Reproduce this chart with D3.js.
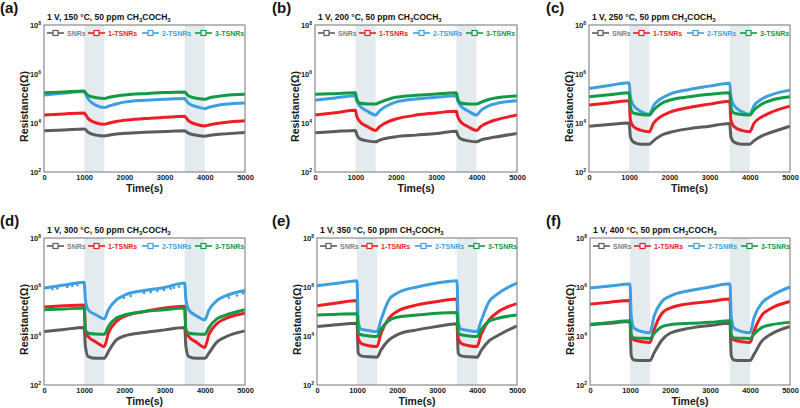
<!DOCTYPE html>
<html>
<head>
<meta charset="utf-8">
<script src="https://cdn.jsdelivr.net/npm/d3@7/dist/d3.min.js"></script>
<style>
  html, body { margin: 0; padding: 0; background: #fff; }
  svg text { font-family: "Liberation Sans", Arial, sans-serif; font-weight: bold; }
</style>
</head>
<body>
<svg id="chart" width="800" height="408"></svg>
<script>
// ---------- DATA ----------
const times = [0, 500, 1000, 1030, 1100, 1300, 1500, 1600, 1800, 2000, 2500, 3000, 3500, 3530, 3600, 3800, 4000, 4100, 4300, 4500, 5000];
const seriesNames = ["SNRs", "1-TSNRs", "2-TSNRs", "3-TSNRs"];
const panelLabels = ["(a)", "(b)", "(c)", "(d)", "(e)", "(f)"];
const temperatures = ["150", "200", "250", "300", "350", "400"];
const gasOnIntervals = [[1000, 1500], [3500, 4000]];
const xTickValues = [0, 1000, 2000, 3000, 4000, 5000];
const yTickValues = [1e2, 1e4, 1e6, 1e8];
const yTickExponents = ["2", "4", "6", "8"];

// (a) 150 °C
const a_SNRs   = [4.8e3, 5.2e3, 5.75e3, 5.4e3, 4.2e3, 3.2e3, 2.95e3, 3.16e3, 3.55e3, 3.8e3, 4.2e3, 4.5e3, 4.8e3, 4.5e3, 3.8e3, 3.16e3, 2.9e3, 3.1e3, 3.4e3, 3.6e3, 4.1e3];
const a_1TSNRs = [2.1e4, 2.35e4, 2.57e4, 2.24e4, 1.51e4, 1.0e4, 8.9e3, 9.8e3, 1.15e4, 1.29e4, 1.51e4, 1.7e4, 1.9e4, 1.66e4, 1.23e4, 8.7e3, 7.6e3, 8.3e3, 9.5e3, 1.05e4, 1.23e4];
const a_2TSNRs = [1.38e5, 1.66e5, 1.95e5, 1.58e5, 9.5e4, 5.2e4, 4.3e4, 4.8e4, 6.0e4, 7.1e4, 8.5e4, 9.3e4, 1.0e5, 8.5e4, 6.3e4, 4.6e4, 3.9e4, 4.4e4, 5.2e4, 5.8e4, 6.6e4];
const a_3TSNRs = [1.7e5, 1.86e5, 2.04e5, 1.78e5, 1.32e5, 1.07e5, 1.0e5, 1.1e5, 1.26e5, 1.38e5, 1.58e5, 1.74e5, 1.86e5, 1.66e5, 1.26e5, 1.02e5, 9.3e4, 1.05e5, 1.2e5, 1.32e5, 1.48e5];
// (b) 200 °C
const b_SNRs   = [4.0e3, 4.5e3, 5.0e3, 3.55e3, 2.3e3, 1.86e3, 1.7e3, 2.0e3, 2.45e3, 2.75e3, 3.2e3, 3.7e3, 4.6e3, 3.3e3, 2.3e3, 1.86e3, 1.7e3, 2.0e3, 2.4e3, 2.75e3, 3.7e3];
const b_1TSNRs = [2.1e4, 2.6e4, 3.3e4, 2.0e4, 1.2e4, 7.1e3, 5.0e3, 7.1e3, 1.12e4, 1.45e4, 2.1e4, 2.57e4, 3.0e4, 1.9e4, 1.15e4, 6.9e3, 5.0e3, 7.1e3, 1.07e4, 1.38e4, 2.1e4];
const b_2TSNRs = [8.5e4, 1.05e5, 1.29e5, 8.3e4, 5.2e4, 3.0e4, 2.1e4, 3.16e4, 5.2e4, 7.1e4, 9.5e4, 1.12e5, 1.29e5, 8.3e4, 5.2e4, 3.0e4, 2.1e4, 3.16e4, 5.0e4, 6.3e4, 8.1e4];
const b_3TSNRs = [1.48e5, 1.58e5, 1.7e5, 1.0e5, 6.6e4, 6.0e4, 5.9e4, 6.9e4, 9.1e4, 1.12e5, 1.35e5, 1.51e5, 1.7e5, 1.0e5, 6.6e4, 6.0e4, 5.9e4, 6.9e4, 9.1e4, 1.07e5, 1.26e5];
// (c) 250 °C
const c_SNRs   = [7.4e3, 8.7e3, 1.0e4, 2.7e3, 1.7e3, 1.35e3, 1.35e3, 1.86e3, 3.16e3, 4.1e3, 5.9e3, 7.4e3, 9.5e3, 2.7e3, 1.7e3, 1.35e3, 1.35e3, 1.86e3, 3.0e3, 4.0e3, 7.4e3];
const c_1TSNRs = [5.4e4, 6.6e4, 8.1e4, 1.29e4, 7.4e3, 5.0e3, 4.4e3, 9.5e3, 1.9e4, 2.7e4, 4.3e4, 5.9e4, 7.8e4, 1.29e4, 7.4e3, 5.0e3, 4.4e3, 9.5e3, 1.78e4, 2.6e4, 4.9e4];
const c_2TSNRs = [2.57e5, 3.4e5, 4.4e5, 1.17e5, 5.4e4, 2.9e4, 2.24e4, 4.9e4, 1.0e5, 1.48e5, 2.35e5, 3.2e5, 4.2e5, 1.17e5, 5.4e4, 2.9e4, 2.24e4, 4.9e4, 9.5e4, 1.35e5, 2.2e5];
const c_3TSNRs = [1.17e5, 1.41e5, 1.7e5, 4.6e4, 2.57e4, 2.2e4, 2.1e4, 3.3e4, 6.3e4, 8.5e4, 1.17e5, 1.48e5, 1.7e5, 4.6e4, 2.57e4, 2.2e4, 2.1e4, 3.3e4, 6.0e4, 8.1e4, 1.17e5];
// (d) 300 °C
const d_SNRs   = [1.51e4, 1.86e4, 2.24e4, 3.7e3, 1.45e3, 1.23e3, 1.23e3, 2.3e3, 6.9e3, 1.0e4, 1.38e4, 1.78e4, 2.24e4, 3.7e3, 1.45e3, 1.23e3, 1.23e3, 2.0e3, 5.6e3, 8.9e3, 1.62e4];
const d_1TSNRs = [1.51e5, 1.7e5, 1.86e5, 1.41e4, 9.5e3, 5.6e3, 3.7e3, 1.29e4, 3.9e4, 6.3e4, 1.0e5, 1.38e5, 1.62e5, 1.41e4, 9.5e3, 5.4e3, 3.4e3, 1.12e4, 3.16e4, 5.0e4, 8.5e4];
const d_2TSNRs = [9.1e5, 1.2e6, 1.55e6, 3.0e5, 1.17e5, 7.2e4, 5.0e4, 1.17e5, 3.0e5, 4.6e5, 7.2e5, 9.5e5, 1.45e6, 3.0e5, 1.17e5, 6.6e4, 4.6e4, 1.12e5, 2.8e5, 4.2e5, 7.2e5];
const d_3TSNRs = [1.17e5, 1.26e5, 1.38e5, 1.78e4, 1.29e4, 1.2e4, 1.17e4, 2.45e4, 5.4e4, 7.2e4, 1.0e5, 1.17e5, 1.38e5, 1.78e4, 1.29e4, 1.2e4, 1.17e4, 2.2e4, 5.0e4, 6.9e4, 1.17e5];
// (d) noisy low readings of 2-TSNRs
const d_2TSNRs_noiseTimes  = [207, 332, 580, 705, 829, 1990, 2156, 2488, 2653, 2819, 2985, 3151, 3234, 3358, 4600, 4800, 4950];
const d_2TSNRs_noiseValues = [8.2e5, 8.8e5, 1.0e6, 1.1e6, 1.2e6, 3.6e5, 4.3e5, 5.7e5, 6.2e5, 6.9e5, 7.5e5, 8.6e5, 9.3e5, 1.04e6, 3.7e5, 4.5e5, 5.5e5];
// (e) 350 °C
const e_SNRs   = [2.45e4, 2.9e4, 3.3e4, 2.0e3, 1.55e3, 1.41e3, 1.35e3, 2.7e3, 6.9e3, 1.12e4, 1.78e4, 2.45e4, 3.16e4, 2.0e3, 1.55e3, 1.41e3, 1.35e3, 2.5e3, 6.3e3, 1.0e4, 2.6e4];
const e_1TSNRs = [1.7e5, 2.2e5, 2.8e5, 7.9e3, 5.1e3, 4.0e3, 3.7e3, 1.29e4, 5.4e4, 1.0e5, 1.86e5, 2.57e5, 3.2e5, 7.9e3, 5.1e3, 4.0e3, 3.7e3, 1.12e4, 4.5e4, 8.9e4, 2.1e5];
const e_2TSNRs = [1.12e6, 1.41e6, 1.82e6, 4.0e4, 1.9e4, 1.66e4, 1.51e4, 4.6e4, 3.0e5, 5.6e5, 1.0e6, 1.45e6, 1.82e6, 4.0e4, 1.9e4, 1.66e4, 1.51e4, 4.0e4, 2.5e5, 5.0e5, 1.45e6];
const e_3TSNRs = [7.2e4, 7.8e4, 8.1e4, 1.32e4, 1.12e4, 1.0e4, 9.5e3, 1.9e4, 4.3e4, 5.8e4, 7.2e4, 8.5e4, 9.1e4, 1.32e4, 1.12e4, 1.0e4, 9.5e3, 1.78e4, 4.0e4, 5.2e4, 7.2e4];
// (f) 400 °C
const f_SNRs   = [2.9e4, 3.3e4, 3.9e4, 1.58e3, 1.05e3, 1.0e3, 1.0e3, 2.0e3, 6.9e3, 1.29e4, 2.1e4, 2.7e4, 3.3e4, 1.58e3, 1.05e3, 1.0e3, 1.0e3, 1.78e3, 6.3e3, 1.12e4, 2.45e4];
const f_1TSNRs = [2.0e5, 2.4e5, 2.8e5, 8.9e3, 6.9e3, 5.8e3, 5.4e3, 1.78e4, 8.5e4, 1.38e5, 2.1e5, 2.57e5, 3.2e5, 8.9e3, 6.9e3, 5.8e3, 5.4e3, 1.58e4, 7.1e4, 1.26e5, 2.57e5];
const f_2TSNRs = [9.1e5, 1.1e6, 1.32e6, 6.3e4, 2.1e4, 1.51e4, 1.35e4, 6.3e4, 2.57e5, 4.2e5, 7.2e5, 1.0e6, 1.35e6, 6.3e4, 2.1e4, 1.51e4, 1.35e4, 5.6e4, 2.24e5, 4.0e5, 1.0e6];
const f_3TSNRs = [3.0e4, 3.55e4, 4.2e4, 1.1e4, 8.3e3, 8.1e3, 7.9e3, 1.26e4, 2.4e4, 2.9e4, 3.3e4, 3.6e4, 4.2e4, 1.1e4, 8.3e3, 8.1e3, 7.9e3, 1.2e4, 2.24e4, 2.8e4, 3.6e4];

const panelSeries = [
  [a_SNRs, a_1TSNRs, a_2TSNRs, a_3TSNRs],
  [b_SNRs, b_1TSNRs, b_2TSNRs, b_3TSNRs],
  [c_SNRs, c_1TSNRs, c_2TSNRs, c_3TSNRs],
  [d_SNRs, d_1TSNRs, d_2TSNRs, d_3TSNRs],
  [e_SNRs, e_1TSNRs, e_2TSNRs, e_3TSNRs],
  [f_SNRs, f_1TSNRs, f_2TSNRs, f_3TSNRs]
];

// ---------- STYLE / LAYOUT ----------
const lineColors = ["#5c5c5c", "#ee1d25", "#3d9fe0", "#129a46"];
const textColors = ["#7f7f7f", "#ee1d25", "#3d9fe0", "#129a46"];
const shadeColor = "#e3ebef";
const frameColor = "#8a8a8a";

const layout = [
  { x0: 44,  x1: 245, y0: 25,  y1: 172, labelX: 0,   labelY: 13 },
  { x0: 315, x1: 517, y0: 25,  y1: 172, labelX: 272, labelY: 13 },
  { x0: 589, x1: 790, y0: 25,  y1: 172, labelX: 546, labelY: 13 },
  { x0: 44,  x1: 245, y0: 238, y1: 385, labelX: 0,   labelY: 226 },
  { x0: 317, x1: 517, y0: 238, y1: 385, labelX: 272, labelY: 226 },
  { x0: 590, x1: 790, y0: 238, y1: 385, labelX: 546, labelY: 226 }
];

const svg = d3.select("#chart");

layout.forEach((L, pi) => {
  const g = svg.append("g");
  const x = d3.scaleLinear().domain([0, 5000]).range([L.x0, L.x1]);
  const y = d3.scaleLog().domain([1e2, 1e8]).range([L.y1, L.y0]);

  // gas-on shading
  gasOnIntervals.forEach(([s, e]) => {
    g.append("rect")
      .attr("x", x(s)).attr("y", L.y0)
      .attr("width", x(e) - x(s)).attr("height", L.y1 - L.y0)
      .attr("fill", shadeColor);
  });

  // curves
  const line = d3.line()
    .x((d, i) => x(times[i]))
    .y(d => y(d))
    .curve(d3.curveMonotoneX);
  panelSeries[pi].forEach((vals, si) => {
    g.append("path")
      .datum(vals)
      .attr("d", line)
      .attr("fill", "none")
      .attr("stroke", lineColors[si])
      .attr("stroke-width", 3)
      .attr("stroke-linejoin", "round");
    if (pi === 3 && si === 2) {
      g.selectAll(null)
        .data(d_2TSNRs_noiseTimes)
        .enter().append("circle")
        .attr("cx", t => x(t))
        .attr("cy", (t, i) => y(d_2TSNRs_noiseValues[i]))
        .attr("r", 1.3)
        .attr("fill", lineColors[2]);
    }
  });

  // frame
  g.append("rect")
    .attr("x", L.x0).attr("y", L.y0)
    .attr("width", L.x1 - L.x0).attr("height", L.y1 - L.y0)
    .attr("fill", "none").attr("stroke", frameColor).attr("stroke-width", 1.2);

  // x axis
  const xa = g.append("g")
    .attr("transform", `translate(0,${L.y1})`)
    .call(d3.axisBottom(x).tickValues(xTickValues).tickSize(0).tickPadding(3).tickFormat(d3.format("d")));
  xa.select(".domain").remove();
  xa.selectAll("text").attr("font-size", 7.5).attr("fill", "#222")
    .style("font-family", "'Liberation Sans', Arial, sans-serif").style("font-weight", "bold");

  // y axis
  const ya = g.append("g")
    .attr("transform", `translate(${L.x0},0)`)
    .call(d3.axisLeft(y).tickValues(yTickValues).tickSize(0).tickPadding(3).tickFormat(() => ""));
  ya.select(".domain").remove();
  ya.selectAll(".tick text").each(function(d, i) {
    const t = d3.select(this);
    t.attr("font-size", 7.5).attr("fill", "#222")
      .style("font-family", "'Liberation Sans', Arial, sans-serif").style("font-weight", "bold");
    t.append("tspan").text("10");
    t.append("tspan").attr("dy", -3).attr("font-size", 5).text(yTickExponents[i]);
  });

  // axis titles
  g.append("text")
    .attr("x", (L.x0 + L.x1) / 2).attr("y", L.y1 + 20)
    .attr("text-anchor", "middle").attr("font-size", 10.5).attr("fill", "#1a1a1a")
    .text("Time(s)");
  g.append("text")
    .attr("transform", `translate(${L.x0 - 16},${(L.y0 + L.y1) / 2 + 8}) rotate(-90)`)
    .attr("text-anchor", "middle").attr("font-size", 10.5).attr("fill", "#1a1a1a")
    .text("Resistance(Ω)");

  // panel label
  g.append("text")
    .attr("x", L.labelX).attr("y", L.labelY)
    .attr("font-size", 15).attr("fill", "#111")
    .text(panelLabels[pi]);

  // title
  const tt = g.append("text")
    .attr("x", L.x0 + 3).attr("y", L.y0 - 5)
    .attr("font-size", 8.5).attr("fill", "#111");
  tt.append("tspan").text(`1 V, ${temperatures[pi]} °C, 50 ppm CH`);
  tt.append("tspan").attr("dy", 2).attr("font-size", 6).text("3");
  tt.append("tspan").attr("dy", -2).text("COCH");
  tt.append("tspan").attr("dy", 2).attr("font-size", 6).text("3");

  // legend
  const legY = L.y0 + 8;
  const offs = [3, 44, 98, 151];
  seriesNames.forEach((name, si) => {
    const lx = L.x0 + offs[si];
    g.append("line")
      .attr("x1", lx).attr("x2", lx + 17)
      .attr("y1", legY).attr("y2", legY)
      .attr("stroke", lineColors[si]).attr("stroke-width", 1.6);
    g.append("rect")
      .attr("x", lx + 6).attr("y", legY - 2.5)
      .attr("width", 5).attr("height", 5)
      .attr("fill", "#fff").attr("stroke", lineColors[si]).attr("stroke-width", 1.2);
    g.append("text")
      .attr("x", lx + 20).attr("y", legY + 2.6)
      .attr("font-size", 7).attr("fill", textColors[si])
      .text(name);
  });
});
</script>
</body>
</html>
